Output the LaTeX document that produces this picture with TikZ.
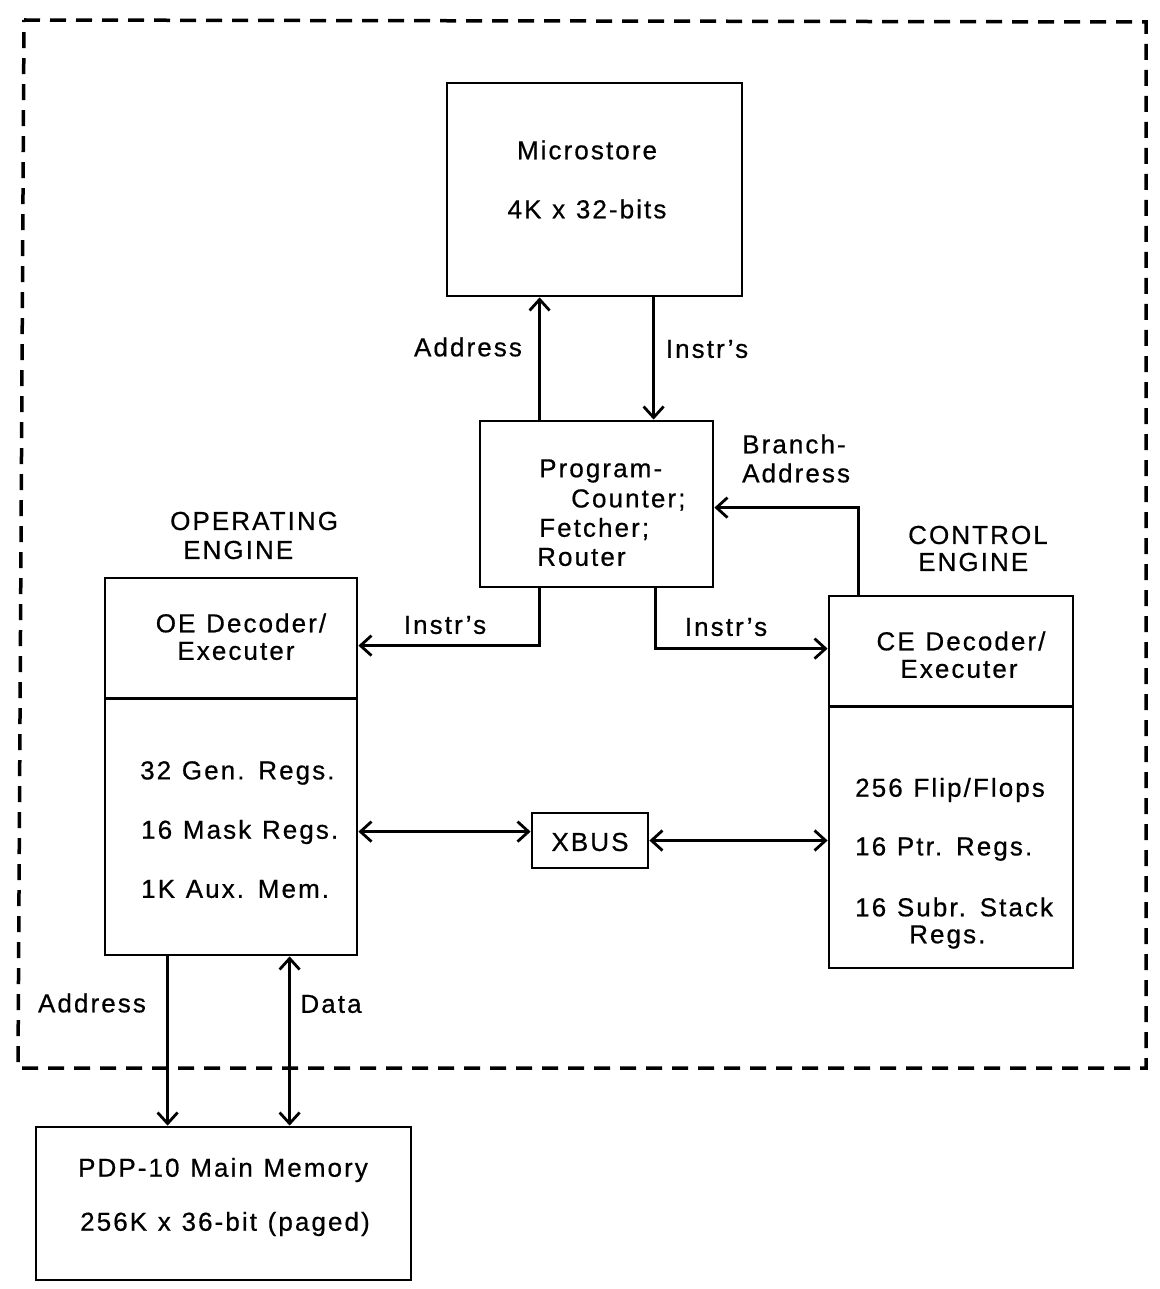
\documentclass[tikz,border=0pt]{standalone}
\usepackage{fontspec}
\setmainfont[LetterSpace=8,WordSpace=1.15,FakeBold=0.6]{Liberation Sans}
\usetikzlibrary{arrows.meta}
\begin{document}
\begin{tikzpicture}[x=1pt,y=-1pt,
  box/.style={draw,line width=2.8pt,minimum width=#1,inner sep=0pt},
  lbl/.style={font=\fontsize{26}{30}\selectfont,inner sep=0pt,align=left},
  clbl/.style={font=\fontsize{26}{30}\selectfont,inner sep=0pt,align=center},
  arr/.style={line width=2.8pt,-{Straight Barb[length=11pt,width=20pt,line width=2.8pt]}},
  darr/.style={line width=2.8pt,{Straight Barb[length=11pt,width=20pt,line width=2.8pt]}-{Straight Barb[length=11pt,width=20pt,line width=2.8pt]}},
  border/.style={line width=3.5pt,dash pattern=on 16pt off 10pt}]
\useasboundingbox (0,0) rectangle (1159,1289);
% outer dashed border
\draw[border] (24,20) -- (1146,22) -- (1146,1068) -- (18,1068) -- cycle;
% boxes
\node[box=295pt,minimum height=213pt] (ms) at (594.5,189.5) {};
\node[box=233pt,minimum height=166pt] (pc) at (596.5,504) {};
\node[box=252pt,minimum height=377pt] (oe) at (231,766.5) {};
\node[box=244pt,minimum height=372pt] (ce) at (951,782) {};
\node[box=116pt,minimum height=55pt] (xbus) at (590,840.5) {};
\node[box=375pt,minimum height=153pt] (pdp) at (223.5,1203.5) {};
\draw[line width=2.8pt] ([yshift=-122pt]oe.north west) coordinate (oediv) -- ([yshift=-122pt]oe.north east);
\draw[line width=2.8pt] ([yshift=-112pt]ce.north west) coordinate (cediv) -- ([yshift=-112pt]ce.north east);
\coordinate (oex) at ([yshift=-255pt]oe.north east);
% texts
\node[clbl] (t1) at (587,150) {Microstore};
\node[clbl] (t2) at (587,209) {4K x 32-bits};
\node[lbl,anchor=west] (t3) at (539,471) {Program-};
\node[lbl,anchor=west] (t4) at (571,500) {Counter;};
\node[lbl,anchor=west] (t5) at (539,529) {Fetcher;};
\node[lbl,anchor=west] (t6) at (537,557) {Router};
\node[lbl,anchor=west] (t7) at (742,444) {Branch-};
\node[lbl,anchor=west] (t8) at (742,473) {Address};
\node[lbl,anchor=west] (t9) at (170,521) {OPERATING};
\node[lbl,anchor=west] (t10) at (183,550) {ENGINE};
\node[lbl,anchor=west] (t11) at (908,535) {CONTROL};
\node[lbl,anchor=west] (t12) at (918,562) {ENGINE};
\node[clbl] (t13) at (241,623) {OE Decoder/};
\node[clbl] (t14) at (236,651) {Executer};
\node[lbl,anchor=west] (t15) at (140,773) {32 Gen. Regs.};
\node[lbl,anchor=west] (t16) at (141,832) {16 Mask Regs.};
\node[lbl,anchor=west] (t17) at (141,889) {1K Aux. Mem.};
\node[clbl] (t18) at (961,641) {CE Decoder/};
\node[clbl] (t19) at (959,669) {Executer};
\node[lbl,anchor=west] (t20) at (855,790) {256 Flip/Flops};
\node[lbl,anchor=west] (t21) at (855,849) {16 Ptr. Regs.};
\node[lbl,anchor=west] (t22) at (855,907) {16 Subr. Stack};
\node[lbl,anchor=west] (t23) at (909,937) {Regs.};
\node[clbl] (t24) at (590,842) {XBUS};
\node[clbl] (t25) at (223,1170) {PDP-10 Main Memory};
\node[clbl] (t26) at (225,1224) {256K x 36-bit (paged)};
\node[clbl] (a1) at (468,347) {Address};
\node[clbl] (a2) at (707,349) {Instr's};
\node[clbl] (a3) at (445,625) {Instr's};
\node[clbl] (a4) at (726,627) {Instr's};
\node[clbl] (a5) at (92,1003) {Address};
\node[clbl] (a6) at (331,1004) {Data};
% connectors
\draw[arr] ([xshift=61pt]pc.north west) -- ([xshift=61pt]pc.north west |- ms.south);
\draw[arr] ([xshift=208pt]ms.south west) -- ([xshift=208pt]ms.south west |- pc.north);
\draw[arr] ([xshift=61pt]pc.south west) |- ([yshift=-69pt]oe.north east);
\draw[arr] ([xshift=177pt]pc.south west) |- ([yshift=-54pt]ce.north west);
\draw[arr] ([xshift=31pt]ce.north west) |- ([yshift=-88pt]pc.north east);
\draw[darr] (oex) -- (xbus.west |- oex);
\draw[darr] (xbus.east) -- (ce.west |- xbus.east);
\draw[arr] ([xshift=64pt]oe.south west) -- ([xshift=64pt]oe.south west |- pdp.north);
\draw[darr] ([xshift=186pt]oe.south west) -- ([xshift=186pt]oe.south west |- pdp.north);
\end{tikzpicture}
\end{document}
